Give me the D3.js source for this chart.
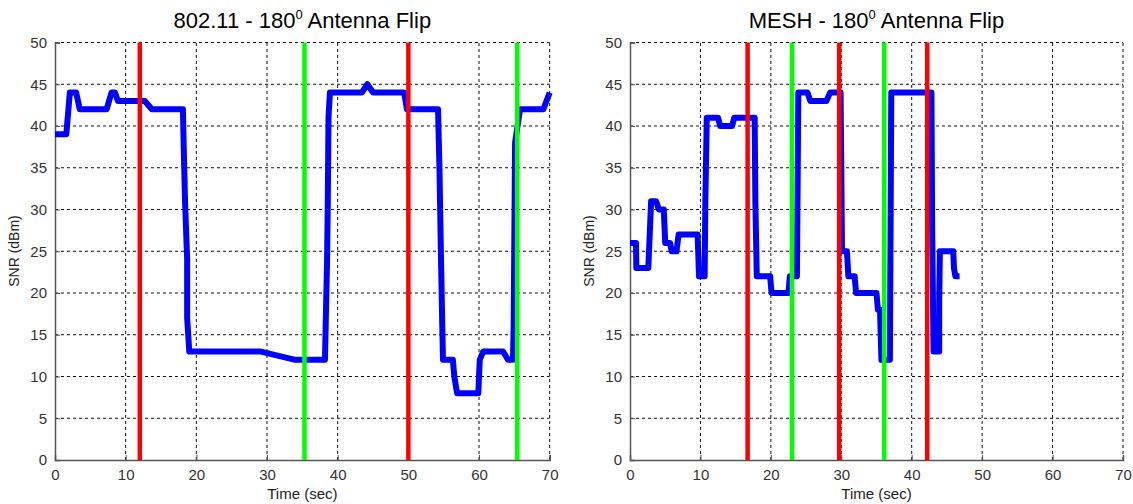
<!DOCTYPE html>
<html>
<head>
<meta charset="utf-8">
<script src="https://cdn.jsdelivr.net/npm/d3@7"></script>
<style>
  body { margin: 0; background: #fff; }
  text { font-family: Arial, "Liberation Sans", sans-serif; }
</style>
</head>
<body>
<div id="c-svg"></div>
<script>
// data
const xTicks = [0, 10, 20, 30, 40, 50, 60, 70];
const yTicks = [0, 5, 10, 15, 20, 25, 30, 35, 40, 45, 50];

const leftTime = [0, 1.6, 2.1, 3.0, 3.5, 7.3, 8.0, 8.5, 8.9, 12.7, 13.7, 18.1, 18.2, 18.4, 18.7, 18.7, 19.0,
  29.0, 34.0, 38.2, 38.3, 38.5, 38.6, 38.7, 38.9, 43.4, 44.2, 45.0, 49.4, 49.8, 54.2, 54.4, 54.6, 54.8, 54.9,
  56.3, 56.5, 56.9, 59.9, 60.1, 60.6, 63.4, 64.1, 64.8, 64.9, 65.1, 65.8, 69.1, 70];
const leftSnr = [39, 39, 44, 44, 42, 42, 44, 44, 43, 43, 42, 42, 38, 31, 24, 17, 13,
  13, 12, 12, 16, 24, 31, 41, 44, 44, 45, 44, 44, 42, 42, 35, 25, 16, 12,
  12, 10, 8, 8, 12, 13, 13, 12, 12, 16, 38, 42, 42, 44];
const leftRed = [12, 50];
const leftGreen = [35.3, 65.4];

const rightTime = [0, 0.85, 0.9, 2.6, 3.0, 3.7, 4.1, 4.8, 5.0, 5.7, 5.9, 6.6, 6.9, 9.6, 9.8, 10.6, 10.7, 10.9,
  12.5, 12.8, 14.5, 14.8, 17.7, 17.8, 18.0, 19.9, 20.1, 22.5, 22.7, 23.7, 23.9, 25.2, 25.6, 27.9, 28.4,
  29.9, 30.0, 30.1, 30.8, 31.0, 31.9, 32.1, 35.0, 35.2, 35.5, 35.7, 36.9, 37.0, 37.1,
  42.8, 42.9, 43.1, 43.9, 43.9, 44.0, 45.9, 46.0, 46.2, 46.8];
const rightSnr = [26, 26, 23, 23, 31, 31, 30, 30, 26, 26, 25, 25, 27, 27, 22, 22, 31, 41,
  41, 40, 40, 41, 41, 31, 22, 22, 20, 20, 22, 22, 44, 44, 43, 43, 44,
  44, 35, 25, 25, 22, 22, 20, 20, 18, 18, 12, 12, 28, 44,
  44, 28, 13, 13, 19, 25, 25, 23, 22, 22];
const rightRed = [16.7, 29.7, 42.2];
const rightGreen = [23.0, 36.1];

const svg = d3.select("#c-svg").append("svg")
  .attr("width", 1133)
  .attr("height", 504);

function drawPanel(opt) {
  const x = d3.scaleLinear().domain([0, 70]).range([opt.left, opt.right]);
  const y = d3.scaleLinear().domain([0, 50]).range([460, 42.5]);
  const g = svg.append("g");

  // dotted grid
  g.append("g").selectAll("line")
    .data(xTicks.slice(1))
    .join("line")
    .attr("x1", d => x(d)).attr("x2", d => x(d))
    .attr("y1", y(0)).attr("y2", y(50))
    .attr("stroke", "#111").attr("stroke-width", 1)
    .attr("stroke-dasharray", "3,3");
  g.append("g").selectAll("line")
    .data(yTicks.slice(1))
    .join("line")
    .attr("x1", x(0)).attr("x2", x(70))
    .attr("y1", d => y(d)).attr("y2", d => y(d))
    .attr("stroke", "#111").attr("stroke-width", 1)
    .attr("stroke-dasharray", "3,3");

  // axes
  const xAxis = d3.axisBottom(x).tickValues(xTicks).tickSize(-5).tickPadding(9);
  const yAxis = d3.axisLeft(y).tickValues(yTicks).tickSize(-5).tickPadding(8);
  const gx = g.append("g").attr("transform", `translate(0,${y(0)})`).call(xAxis);
  const gy = g.append("g").attr("transform", `translate(${x(0)},0)`).call(yAxis);
  [gx, gy].forEach(a => {
    a.select(".domain").attr("stroke", "#555").attr("stroke-width", 1.5);
    a.selectAll(".tick line").attr("stroke", "#555");
    a.selectAll(".tick text").attr("fill", "#333").attr("font-size", 15)
      .attr("font-family", "Arial, 'Liberation Sans', sans-serif");
  });

  // snr trace
  const line = d3.line().x(d => x(d[0])).y(d => y(d[1]));
  g.append("path")
    .datum(d3.zip(opt.time, opt.snr))
    .attr("d", line)
    .attr("fill", "none")
    .attr("stroke", "#0000ff")
    .attr("stroke-width", 6)
    .attr("stroke-linejoin", "round");

  // flip markers
  g.append("g").selectAll("line")
    .data(opt.red)
    .join("line")
    .attr("x1", d => x(d)).attr("x2", d => x(d))
    .attr("y1", y(0)).attr("y2", y(50))
    .attr("stroke", "#ff0000").attr("stroke-width", 4.5);
  g.append("g").selectAll("line")
    .data(opt.green)
    .join("line")
    .attr("x1", d => x(d)).attr("x2", d => x(d))
    .attr("y1", y(0)).attr("y2", y(50))
    .attr("stroke", "#00ff00").attr("stroke-width", 4.5);

  // labels
  const cx = (x(0) + x(70)) / 2;
  const t = g.append("text")
    .attr("x", cx).attr("y", 28)
    .attr("text-anchor", "middle")
    .attr("font-size", 22)
    .attr("fill", "#000");
  t.append("tspan").text(opt.title + " - 180");
  t.append("tspan").attr("font-size", 13).attr("dy", -9).text("0");
  t.append("tspan").attr("dy", 9).text(" Antenna Flip");

  g.append("text")
    .attr("x", cx).attr("y", 499)
    .attr("text-anchor", "middle")
    .attr("font-size", 15)
    .attr("fill", "#222")
    .text("Time (sec)");

  g.append("text")
    .attr("transform", `translate(${opt.left - 36},251) rotate(-90)`)
    .attr("text-anchor", "middle")
    .attr("font-size", 14)
    .attr("fill", "#222")
    .text("SNR (dBm)");
}

drawPanel({title: "802.11", left: 55, right: 549.7, time: leftTime, snr: leftSnr, red: leftRed, green: leftGreen});
drawPanel({title: "MESH", left: 630, right: 1123, time: rightTime, snr: rightSnr, red: rightRed, green: rightGreen});
</script>
</body>
</html>
